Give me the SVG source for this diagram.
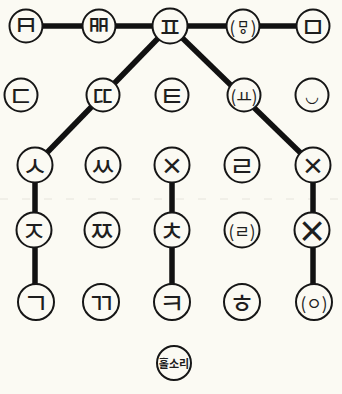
<svg xmlns="http://www.w3.org/2000/svg" width="342" height="394" viewBox="0 0 342 394">
<style>
.bg{fill:#fbfaf3}
.n circle{fill:#fbfaf3;stroke:#161616;stroke-width:2}
.t{font-family:"Noto Sans CJK KR","Noto Sans",sans-serif;font-size:28px;font-weight:400;fill:#1e1e1e;text-anchor:middle;dominant-baseline:central}
.s{font-size:17px}
.x{font-family:"Liberation Sans",sans-serif;font-size:34px;font-weight:400}
.e line{stroke:#111;stroke-width:5.5;stroke-linecap:butt}
</style>
<rect class="bg" width="342" height="394"/>
<line x1="0" y1="199" x2="342" y2="199" stroke="#e6e4dc" stroke-width="1" stroke-dasharray="8 14"/>
<g id="connectors" class="e">
<line x1="26" y1="26" x2="313" y2="26"/>
<line x1="170" y1="26" x2="35" y2="165"/>
<line x1="170" y1="26" x2="313" y2="165"/>
<line x1="35" y1="165" x2="35" y2="302"/>
<line x1="172" y1="165" x2="172" y2="302"/>
<line x1="313" y1="165" x2="313" y2="302"/>
</g>
<g id="n-b" class="n"><circle cx="26" cy="26" r="16.5"/><text class="t" x="26" y="26" transform="rotate(180 26 26)">ㅂ</text></g>
<g id="n-bb" class="n"><circle cx="99" cy="26" r="16.5"/><text class="t" x="99" y="26" transform="rotate(180 99 26)">ㅃ</text></g>
<g id="n-p" class="n"><circle cx="170" cy="26" r="17.5"/><text class="t" x="170" y="26">ㅍ</text></g>
<g id="n-mm" class="n"><circle cx="243" cy="26" r="16.5"/><text class="t s" x="243" y="26">(ㅱ)</text></g>
<g id="n-m" class="n"><circle cx="313" cy="26" r="16.5"/><text class="t" x="313" y="26">ㅁ</text></g>

<g id="n-d" class="n"><circle cx="21" cy="95" r="16.5"/><text class="t" x="21" y="95">ㄷ</text></g>
<g id="n-dd" class="n"><circle cx="103" cy="95" r="16.5"/><text class="t" x="103" y="95">ㄸ</text></g>
<g id="n-t" class="n"><circle cx="172" cy="95" r="16.5"/><text class="t" x="172" y="95">ㅌ</text></g>
<g id="n-yo" class="n"><circle cx="244" cy="95" r="16.5"/><text class="t s" x="244" y="95">(ㅛ)</text></g>
<g id="n-n" class="n"><circle cx="312" cy="95" r="16.5"/><text class="t" x="312" y="95" style="font-size:16px">◡</text></g>

<g id="n-s" class="n"><circle cx="35" cy="165" r="17.5"/><text class="t" x="35" y="165">ㅅ</text></g>
<g id="n-ss" class="n"><circle cx="103" cy="165" r="17.5"/><text class="t" x="103" y="165">ㅆ</text></g>
<g id="n-x1" class="n"><circle cx="172" cy="165" r="17.5"/><text class="t x" x="172" y="165">×</text></g>
<g id="n-r" class="n"><circle cx="242" cy="165" r="17.5"/><text class="t" x="242" y="165">ㄹ</text></g>
<g id="n-x2" class="n"><circle cx="313" cy="165" r="17.5"/><text class="t x" x="313" y="165">×</text></g>

<g id="n-j" class="n"><circle cx="34" cy="230" r="17.5"/><text class="t" x="34" y="230">ㅈ</text></g>
<g id="n-jj" class="n"><circle cx="102" cy="230" r="17.5"/><text class="t" x="102" y="230">ㅉ</text></g>
<g id="n-ch" class="n"><circle cx="172" cy="230" r="17.5"/><text class="t" x="172" y="230">ㅊ</text></g>
<g id="n-rr" class="n"><circle cx="242" cy="230" r="17.5"/><text class="t s" x="242" y="230">(ㄹ)</text></g>
<g id="n-x3" class="n"><circle cx="312" cy="230" r="17.5"/><text class="t x" x="312" y="230" style="font-size:44px">×</text></g>

<g id="n-g" class="n"><circle cx="36" cy="302" r="18"/><text class="t" x="36" y="302">ㄱ</text></g>
<g id="n-gg" class="n"><circle cx="101" cy="302" r="18"/><text class="t" x="101" y="302">ㄲ</text></g>
<g id="n-k" class="n"><circle cx="172" cy="302" r="18"/><text class="t" x="172" y="302">ㅋ</text></g>
<g id="n-h" class="n"><circle cx="242" cy="302" r="18"/><text class="t" x="242" y="302">ㅎ</text></g>
<g id="n-ng" class="n"><circle cx="314" cy="302" r="18"/><text class="t s" x="314" y="302">(ㅇ)</text></g>

<g id="n-vowel" class="n"><circle cx="174" cy="363" r="17"/><text class="t" x="174" y="363" style="font-size:11px;font-weight:700">홀소리</text></g>
</svg>
